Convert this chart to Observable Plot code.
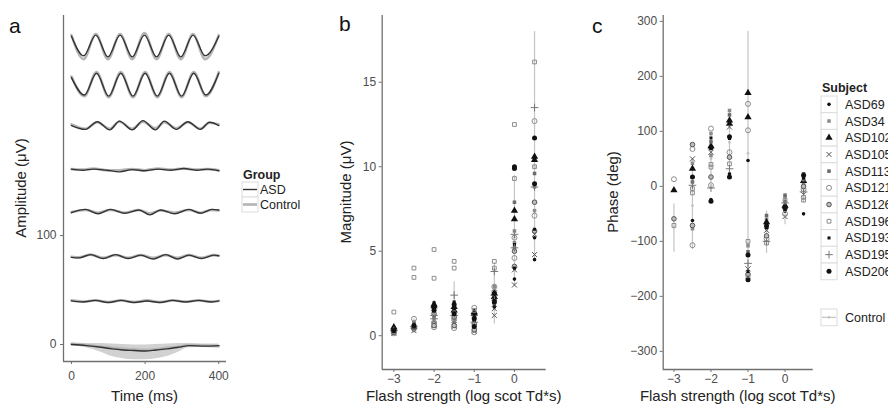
<!DOCTYPE html>
<html><head><meta charset="utf-8">
<script src="https://cdn.jsdelivr.net/npm/d3@7"></script>
<script src="https://cdn.jsdelivr.net/npm/@observablehq/plot@0.6"></script>
<style>
html,body{margin:0;padding:0;background:#fff;}
#fig{position:relative;width:888px;height:409px;overflow:hidden;background:#fff;font-family:"Liberation Sans",Arial,Helvetica,sans-serif;}
#fig > svg{position:absolute;margin:0;}
</style></head><body><div id="fig"></div>
<script>
// ---------- Panel a: averaged waveforms (one trace per flash strength) ----------
const strengths = [-3, -2.5, -2, -1.5, -1, -0.5, 0, 0.5];
const timeTicks = [0, 200, 400];
const amplitudeTicks = [0, 100];

const tP05 = [0, 33, 66, 99, 132, 165, 198, 231, 264, 297, 330, 363, 400];
const asdP05 = [283, 265, 284, 264, 284, 264, 284, 264, 284, 264, 284, 265, 283];
const ctlP05 = [284, 262, 285, 262, 285, 262, 286, 262, 285, 262, 285, 262, 284];

const tP0 = [0, 35, 68, 101, 134, 167, 200, 233, 266, 299, 332, 365, 400];
const asdP0 = [245, 229, 249, 228, 249, 228, 249, 228, 249, 228, 249, 229, 249];
const ctlP0 = [246, 228, 250, 227, 250, 227, 250, 227, 250, 227, 250, 228, 250];

const tM05 = [0, 38, 70, 104, 130, 165, 194, 228, 252, 285, 316, 350, 375, 400];
const asdM05 = [201, 197.5, 204.5, 197, 205, 197, 205.5, 197, 205, 197.5, 204.5, 197.5, 204, 201];
const ctlM05 = [202, 198, 204, 198, 204.5, 198, 204.5, 198.5, 204, 198.5, 204, 198, 203.5, 202];

const tM1 = [0, 30, 60, 95, 130, 165, 200, 235, 270, 305, 340, 370, 400];
const asdM1 = [161, 160, 161, 160, 158.5, 160.5, 159.5, 161, 160, 161.5, 160, 161, 159.5];
const ctlM1 = [161, 160.5, 161.5, 160, 160, 161, 160, 161.5, 160.5, 161.5, 160.5, 161, 160];

const tM15 = [0, 38, 72, 106, 145, 183, 213, 242, 280, 319, 350, 382, 400];
const asdM15 = [121, 124, 120, 124, 120.5, 123.5, 119, 123.5, 120, 124, 120.5, 124, 123.5];
const ctlM15 = [121.5, 123.5, 121, 123.5, 121, 123.5, 120.5, 123, 121, 123.5, 121, 123.5, 123];

const tM2 = [0, 20, 52, 86, 120, 154, 188, 222, 256, 288, 319, 353, 387, 400];
const asdM2 = [80, 79.5, 82.5, 79, 82.5, 79, 82, 78.5, 82.5, 78.5, 82, 79, 82, 81.5];
const ctlM2 = [80.5, 80, 82.5, 79.5, 82, 79.5, 82, 79.5, 82, 79.5, 82, 79.5, 82, 81.5];

const tM25 = [0, 30, 65, 100, 135, 170, 205, 240, 275, 310, 345, 380, 400];
const asdM25 = [40, 39, 40.5, 38.5, 40.5, 38.5, 40, 38.5, 40.5, 39, 40.5, 39, 40];
const ctlM25 = [40.5, 39.5, 40.5, 39, 40.5, 39, 40.5, 39, 40.5, 39.5, 40.5, 39.5, 40];

const tM3 = [0, 40, 80, 110, 140, 170, 200, 230, 260, 290, 320, 360, 400];
const asdM3 = [0, -1, -2.5, -4, -5, -5.5, -6, -5, -4, -2.5, -1, -1.5, -1];
const ctlM3 = [0.5, -0.5, -2, -3, -4, -4.5, -5, -4.5, -3, -2, -0.5, -1, -1.5];
const bandLowM3 = [-1, -3, -7, -11, -13, -14, -14, -13, -11, -7, -3, -2.5, -2];
const bandHighM3 = [1.5, 1, 1, 0.5, 0, -0.5, -0.5, 0, 0.5, 1, 1, 0.5, 0.5];

// ---------- Panels b, c: per-subject magnitude and phase ----------
const subjects = ["ASD69","ASD34","ASD102","ASD105","ASD113","ASD121","ASD126","ASD196","ASD193","ASD195","ASD206"];
const flashTicks = [-3, -2, -1, 0];
const magnitudeTicks = [0, 5, 10, 15];
const phaseTicks = [-300, -200, -100, 0, 100, 200, 300];

// rows = subjects, columns = strengths (first and second recording)
const magnitudeA = [
  [0.3, 0.5, 1.2, 1.3, 0.8, 2.2, 4.0, 4.5],
  [0.2, 0.7, 1.6, 1.9, 0.7, 2.6, 5.5, 7.4],
  [0.5, 0.55, 1.85, 1.7, 1.3, 2.3, 7.4, 10.6],
  [0.15, 0.3, 0.6, 0.55, 0.25, 1.2, 3.0, 4.8],
  [0.25, 0.6, 1.1, 1.4, 0.9, 2.0, 7.9, 9.6],
  [0.14, 1.0, 0.75, 0.45, 1.65, 2.9, 4.6, 12.7],
  [0.2, 0.4, 1.3, 1.1, 0.35, 2.1, 5.0, 7.9],
  [1.4, 4.0, 5.1, 4.4, 1.5, 4.4, 12.5, 16.2],
  [0.35, 0.45, 1.6, 1.8, 1.2, 1.7, 5.4, 9.0],
  [0.3, 0.55, 1.2, 2.4, 0.8, 3.8, 5.2, 13.5],
  [0.3, 0.6, 1.7, 1.85, 1.0, 2.0, 10.0, 11.7]
];
const magnitudeB = [
  [0.35, 0.6, 1.5, 1.6, 1.1, 1.9, 3.35, 5.8],
  [null, 0.45, 0.9, 1.0, 0.5, 2.9, 6.2, 8.8],
  [0.4, null, 1.75, 1.5, 1.4, 2.5, 6.9, 10.4],
  [null, null, 0.7, 0.65, 0.4, 1.6, 3.9, 6.0],
  [null, 0.8, 1.3, 0.8, 0.6, 1.8, 5.2, 7.9],
  [null, 0.5, 0.5, 0.95, 0.2, 2.6, 5.8, 7.1],
  [null, null, 0.6, 0.6, 0.7, null, 4.1, 6.2],
  [null, 3.45, 3.4, 4.0, 1.1, 4.0, 9.3, 10.0],
  [null, null, 1.95, 2.0, 0.9, 2.2, 4.0, 6.3],
  [null, null, 1.0, 1.2, null, 2.4, 6.0, 8.8],
  [null, null, 1.5, 1.3, 0.55, 2.5, 9.9, 9.0]
];
const phaseA = [
  [null, -62, -24, 23, 47, -70, -45, -50],
  [null, 42, 96, 138, -108, -60, -20, 18],
  [-7, 32, 73, 120, 170, -65, -35, 10],
  [null, 50, 62, 108, -150, -80, -55, -15],
  [null, 8, 81, 130, -119, -53, -16, 23],
  [13, 68, 105, 62, 150, -95, -50, -5],
  [-59, 76, 17, 53, -160, -90, -40, 0],
  [-71, -4, 40, 41, -100, -103, -25, -20],
  [null, null, 88, 87, -155, -75, -42, 15],
  [null, 2, -3, 32, -140, -100, -30, -10],
  [null, 17, 70, 90, -125, -72, -38, 20]
];
const phaseB = [
  [null, null, null, null, null, null, null, null],
  [null, -77, 56, null, null, -68, null, 5],
  [null, null, null, 114, 126, null, null, null],
  [null, null, null, null, null, null, null, null],
  [null, null, null, null, null, null, -28, 12],
  [null, -107, 2, null, 102, null, null, null],
  [null, -71, null, null, null, null, null, null],
  [null, -12, 35, null, -165, null, null, -25],
  [null, null, null, null, null, null, null, null],
  [null, null, null, null, null, null, null, null],
  [null, null, -27, 17, -170, null, null, null]
];
// Control group summary (mean and range) per strength
const ctlMagMean = [0.35, 0.6, 1.2, 2.0, 0.8, 2.4, 5.8, 10];
const ctlMagLow = [0.05, 0.15, 0.5, 0.6, 0.25, 0.7, 3.0, 4.5];
const ctlMagHigh = [0.65, 1.0, 2.0, 3.2, 1.4, 4.3, 9.5, 18];
const ctlPhaseMean = [-75, -35, 50, 80, 60, -80, -40, -5];
const ctlPhaseLow = [-120, -115, 5, 25, -160, -122, -70, -30];
const ctlPhaseHigh = [-32, 50, 95, 135, 282, -45, -15, 20];

// ---------- styling ----------
const FONT = '"Liberation Sans", Arial, Helvetica, sans-serif';
const AXIS = "#707070", TEXT = "#4d4d4d";
const symName = ["circle","square","triangle","times","square","circle","circle","square2","square","plus","circle"];
const symFill = ["#111","#8c8c8c","#111","none","#6a6a6a","none","#bdbdbd","none","#111","none","#111"];
const symStroke = ["none","none","none","#555","none","#8c8c8c","#555","#8c8c8c","none","#777","none"];
const symR = [1.8, 2.0, 2.7, 2.4, 2.0, 2.5, 2.3, 2.4, 1.7, 2.6, 2.5];
const fmt = d => (d < 0 ? "\u2212" : "") + Math.abs(d);

// ---------- build tables ----------
const waves = [
  [-3, tM3, asdM3, ctlM3], [-2.5, tM25, asdM25, ctlM25], [-2, tM2, asdM2, ctlM2],
  [-1.5, tM15, asdM15, ctlM15], [-1, tM1, asdM1, ctlM1], [-0.5, tM05, asdM05, ctlM05],
  [0, tP0, asdP0, ctlP0], [0.5, tP05, asdP05, ctlP05]
];
const asdRows = [], ctlRows = [];
for (const [s, ts, a, c] of waves) ts.forEach((t, i) => { asdRows.push({s, t, v: a[i]}); ctlRows.push({s, t, v: c[i]}); });
const bandRows = tM3.map((t, i) => ({t, lo: bandLowM3[i], hi: bandHighM3[i]}));

function subjectRows(A, B) {
  const rows = [];
  subjects.forEach((name, i) => strengths.forEach((s, j) => {
    if (A[i][j] != null) rows.push({subject: name, s, v: A[i][j]});
    if (B[i][j] != null) rows.push({subject: name, s, v: B[i][j]});
  }));
  return rows;
}
const magRows = subjectRows(magnitudeA, magnitudeB);
const phaseRows = subjectRows(phaseA, phaseB);
const ctlMag = strengths.map((s, j) => ({s, m: ctlMagMean[j], lo: ctlMagLow[j], hi: ctlMagHigh[j]}));
const ctlPhase = strengths.map((s, j) => ({s, m: ctlPhaseMean[j], lo: ctlPhaseLow[j], hi: ctlPhaseHigh[j]}));

function dotsFor(rows) {
  return subjects.map((name, i) => Plot.dot(rows.filter(d => d.subject === name), {
    x: "s", y: "v", symbol: symName[i], r: symR[i], fill: symFill[i], stroke: symStroke[i], strokeWidth: 1
  }));
}
function frameMarks(xd, yd) {
  return [Plot.ruleX([xd[0]], {stroke: AXIS, strokeWidth: 1.3}), Plot.ruleY([yd[0]], {stroke: AXIS, strokeWidth: 1.3})];
}
const style = {fontFamily: FONT, fontSize: "12px", color: TEXT, background: "transparent", overflow: "visible"};

const fig = document.getElementById("fig");
function place(el, left) { el.style.left = left + "px"; el.style.top = "0px"; fig.appendChild(el); }

// Panel a
const aX = [-21.7, 421], aY = [-15.6, 302];
place(Plot.plot({
  width: 240, height: 409, marginLeft: 63, marginRight: 14, marginTop: 15, marginBottom: 48,
  style, x: {domain: aX}, y: {domain: aY},
  marks: [
    Plot.areaY(bandRows, {x: "t", y1: "lo", y2: "hi", fill: "#bdbdbd", fillOpacity: 0.7, curve: "monotone-x"}),
    Plot.line(ctlRows, {x: "t", y: "v", z: "s", stroke: "#b5b5b5", strokeWidth: 2.6, curve: "monotone-x"}),
    Plot.line(asdRows, {x: "t", y: "v", z: "s", stroke: "#333", strokeWidth: 1.4, curve: "monotone-x"}),
    Plot.axisX({ticks: timeTicks, tickSize: 3, tickPadding: 7, tickFormat: fmt, label: null, stroke: AXIS, fill: TEXT}),
    Plot.axisY({ticks: amplitudeTicks, tickSize: 3, tickPadding: 4, tickFormat: fmt, label: null, stroke: AXIS, fill: TEXT}),
    ...frameMarks(aX, aY)
  ]
}), 0);

// Panel b
const bX = [-3.29, 0.79], bY = [-2.0, 18.95];
place(Plot.plot({
  width: 260, height: 409, marginLeft: 81.7, marginRight: 14.3, marginTop: 15, marginBottom: 40,
  style, x: {domain: bX}, y: {domain: bY},
  marks: [
    Plot.ruleX(ctlMag, {x: "s", y1: "lo", y2: "hi", stroke: "#c4c4c4", strokeWidth: 1.2}),
    Plot.dot(ctlMag, {x: "s", y: "m", r: 1.4, fill: "#c4c4c4"}),
    ...dotsFor(magRows),
    Plot.axisX({ticks: flashTicks, tickSize: 3, tickPadding: 1.5, tickFormat: fmt, label: null, stroke: AXIS, fill: TEXT}),
    Plot.axisY({ticks: magnitudeTicks, tickSize: 3, tickPadding: 3, tickFormat: fmt, label: null, stroke: AXIS, fill: TEXT}),
    ...frameMarks(bX, bY)
  ]
}), 300);

// Panel c
const cX = [-3.29, 0.76], cY = [-333, 310.7];
place(Plot.plot({
  width: 230, height: 409, marginLeft: 72.7, marginRight: 7.3, marginTop: 15, marginBottom: 40,
  style, x: {domain: cX}, y: {domain: cY},
  marks: [
    Plot.ruleX(ctlPhase, {x: "s", y1: "lo", y2: "hi", stroke: "#c4c4c4", strokeWidth: 1.2}),
    Plot.dot(ctlPhase, {x: "s", y: "m", r: 1.4, fill: "#c4c4c4"}),
    ...dotsFor(phaseRows),
    Plot.axisX({ticks: flashTicks, tickSize: 3, tickPadding: 1.5, tickFormat: fmt, label: null, stroke: AXIS, fill: TEXT}),
    Plot.axisY({ticks: phaseTicks, tickSize: 3, tickPadding: 3, tickFormat: fmt, label: null, stroke: AXIS, fill: TEXT}),
    ...frameMarks(cX, cY)
  ]
}), 590);

// ---------- overlay: panel letters, axis titles, legends ----------
const ov = d3.select(fig).append("svg").attr("width", 888).attr("height", 409)
  .style("left", "0px").style("top", "0px").style("font-family", FONT);
const letter = (t, x, y) => ov.append("text").attr("x", x).attr("y", y).attr("font-size", 21).attr("fill", "#111").text(t);
letter("a", 9, 33); letter("b", 339, 31); letter("c", 592, 33);
const xTitle = (t, x) => ov.append("text").attr("x", x).attr("y", 401).attr("text-anchor", "middle").attr("font-size", 15).attr("fill", "#222").text(t);
xTitle("Time (ms)", 144.5); xTitle("Flash strength (log scot Td*s)", 463.7); xTitle("Flash strength (log scot Td*s)", 737.7);
const yTitle = (t, x, y) => ov.append("text").attr("transform", `translate(${x},${y}) rotate(-90)`).attr("text-anchor", "middle").attr("font-size", 15).attr("fill", "#222").text(t);
yTitle("Amplitude (\u03bcV)", 26, 188); yTitle("Magnitude (\u03bcV)", 351, 192); yTitle("Phase (deg)", 618, 192);

// Group legend
ov.append("text").attr("x", 243).attr("y", 179).attr("font-size", 12.5).attr("font-weight", "bold").attr("fill", "#222").text("Group");
[["ASD", "#333", 1.4], ["Control", "#b5b5b5", 2.6]].forEach(([name, col, w], i) => {
  const y = 182 + i * 15;
  ov.append("rect").attr("x", 242).attr("y", y).attr("width", 16).attr("height", 15).attr("fill", "#fff").attr("stroke", "#dcdcdc");
  ov.append("line").attr("x1", 243).attr("x2", 257).attr("y1", y + 7.5).attr("y2", y + 7.5).attr("stroke", col).attr("stroke-width", w);
  ov.append("text").attr("x", 260).attr("y", y + 12).attr("font-size", 12.5).attr("fill", "#222").text(name);
});

// Subject legend
const d3sym = {circle: d3.symbolCircle, square: d3.symbolSquare, triangle: d3.symbolTriangle, times: d3.symbolTimes,
  plus: d3.symbolPlus, square2: d3.symbolSquare2, diamond: d3.symbolDiamond, diamond2: d3.symbolDiamond2};
ov.append("text").attr("x", 822).attr("y", 92).attr("font-size", 12.5).attr("font-weight", "bold").attr("fill", "#222").text("Subject");
subjects.forEach((name, i) => {
  const y = 96 + i * 16.7;
  ov.append("rect").attr("x", 821).attr("y", y).attr("width", 16).attr("height", 16.7).attr("fill", "#fff").attr("stroke", "#dcdcdc");
  ov.append("path").attr("transform", `translate(829,${y + 8.35})`)
    .attr("d", d3.symbol(d3sym[symName[i]], Math.PI * symR[i] * symR[i])())
    .attr("fill", symFill[i]).attr("stroke", symStroke[i]).attr("stroke-width", 1);
  ov.append("text").attr("x", 845).attr("y", y + 12.8).attr("font-size", 12.5).attr("fill", "#222").text(name);
});
// Control legend
ov.append("rect").attr("x", 821).attr("y", 309).attr("width", 16).attr("height", 16.7).attr("fill", "#fff").attr("stroke", "#dcdcdc");
ov.append("line").attr("x1", 822).attr("x2", 836).attr("y1", 317.35).attr("y2", 317.35).attr("stroke", "#c4c4c4").attr("stroke-width", 1.2);
ov.append("circle").attr("cx", 829).attr("cy", 317.35).attr("r", 1.4).attr("fill", "#c4c4c4");
ov.append("text").attr("x", 845).attr("y", 321.8).attr("font-size", 12.5).attr("fill", "#222").text("Control");
</script></body></html>
